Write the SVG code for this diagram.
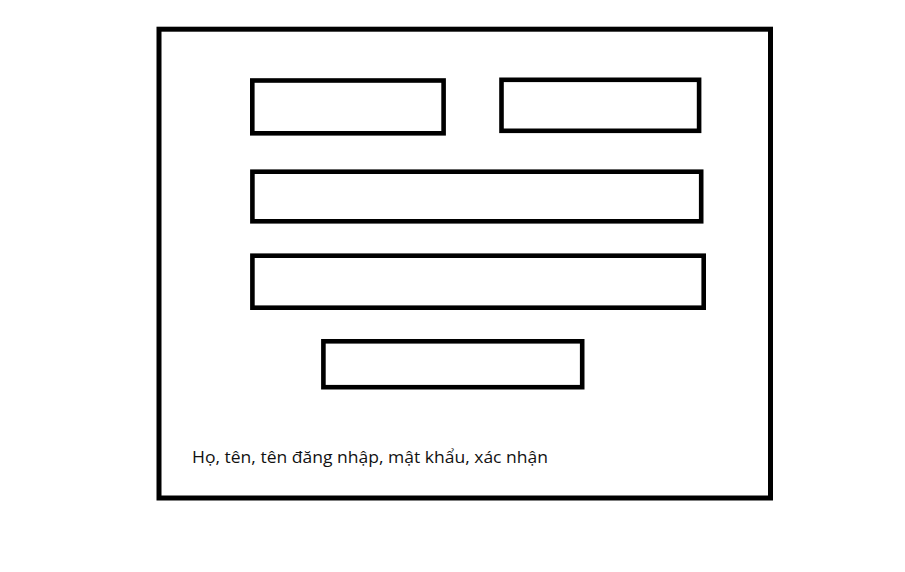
<svg xmlns="http://www.w3.org/2000/svg" width="905" height="572" viewBox="0 0 905 572">
  <style>
    .frame { fill: #ffffff; stroke: #000000; stroke-width: 5; }
    .field { fill: #ffffff; stroke: #000000; stroke-width: 4.6; }
    .label { font-family: "Open Sans", "Noto Sans", "DejaVu Sans", sans-serif; font-size: 15.5px; fill: #111111; }
  </style>
  <rect x="0" y="0" width="905" height="572" fill="#ffffff"/>
  <g id="form">
    <rect class="frame" x="159" y="29.2" width="611.5" height="468.8"/>
  </g>
  <g id="field-ho">
    <rect class="field" x="252.3" y="80.5" width="191.3" height="52.8"/>
  </g>
  <g id="field-ten">
    <rect class="field" x="501.5" y="79.8" width="197.6" height="51"/>
  </g>
  <g id="field-tendangnhap">
    <rect class="field" x="252.4" y="171.7" width="448.8" height="49.6"/>
  </g>
  <g id="field-matkhau">
    <rect class="field" x="252.4" y="255.7" width="451.3" height="52"/>
  </g>
  <g id="button-xacnhan">
    <rect class="field" x="323.4" y="341.3" width="258.8" height="45.9"/>
  </g>
  <g id="caption">
    <text class="label" x="192" y="463.3" textLength="356" lengthAdjust="spacingAndGlyphs">Họ, tên, tên đăng nhập, mật khẩu, xác nhận</text>
  </g>
  <g id="connectors"></g>
</svg>
